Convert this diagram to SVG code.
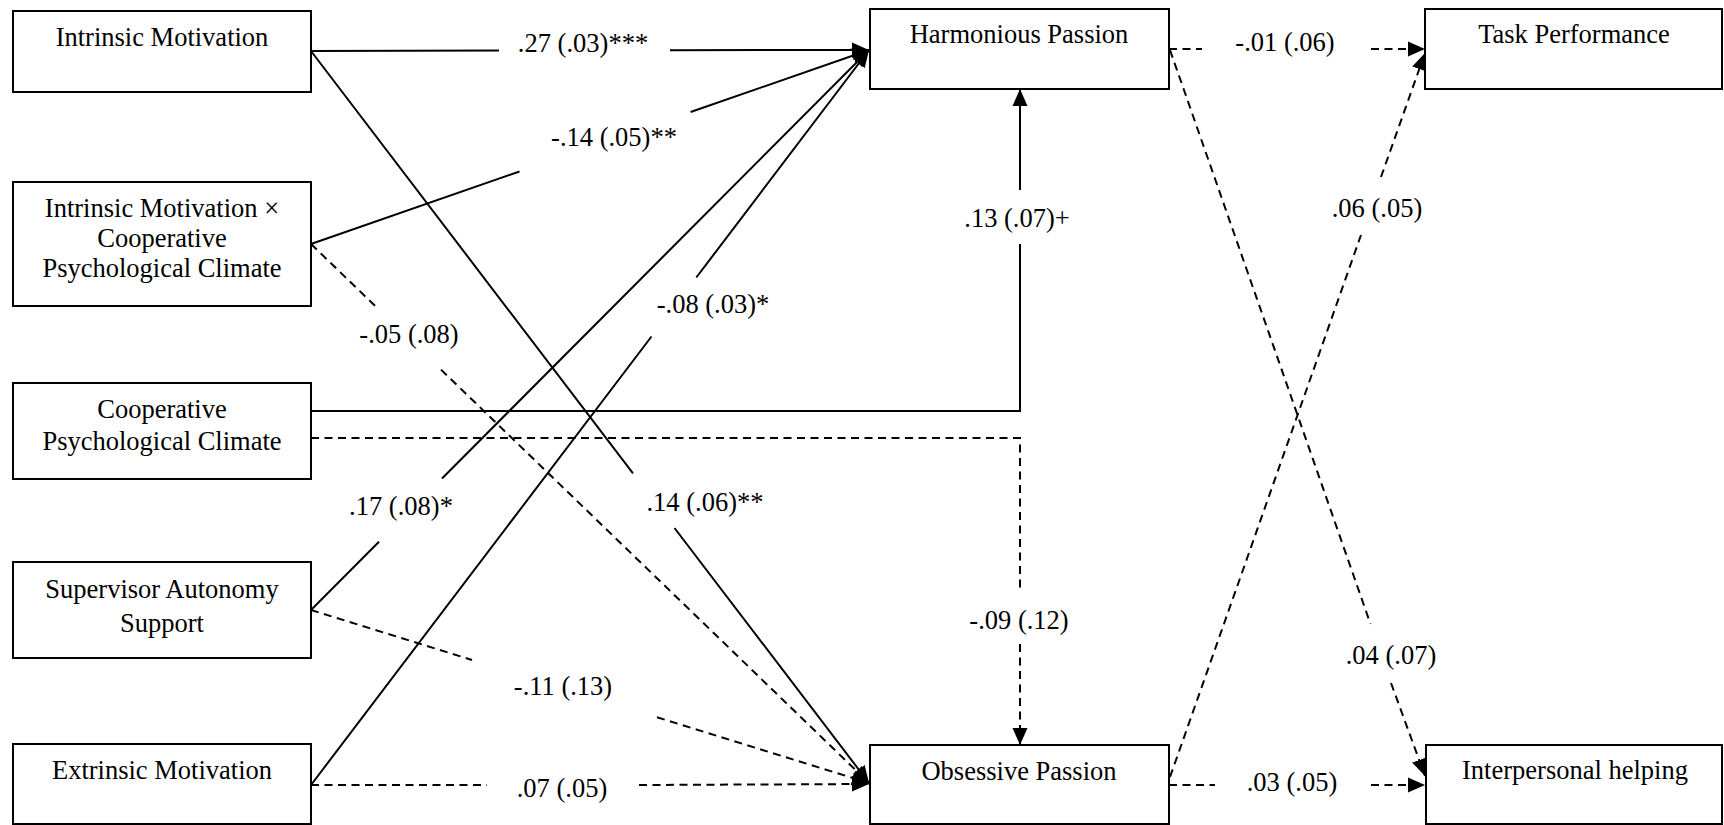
<svg xmlns="http://www.w3.org/2000/svg" width="1724" height="825" viewBox="0 0 1724 825">
<style>
.box{fill:#fff;stroke:#000;stroke-width:2}
.t{font-family:"Liberation Serif","Times New Roman",serif;font-size:26.5px;fill:#000;text-anchor:middle}
.c{fill:none;stroke:#000;stroke-width:2}
.d{stroke-dasharray:8 5.5}
</style>
<defs>
<marker id="ah" markerUnits="userSpaceOnUse" markerWidth="18" markerHeight="16" refX="17" refY="8" orient="auto" viewBox="0 0 18 16">
<path d="M0,0.5 L17,8 L0,15.5 z" fill="#000"/>
</marker>
</defs>
<rect width="1724" height="825" fill="#fff"/>
<g id="connectors">
<path id="e1" class="c" d="M311,51 L499,50.6 M670,50.2 L869,50" marker-end="url(#ah)"/>
<path id="e2" class="c" d="M311,51 L633,473.4 M674.5,528 L869,783" marker-end="url(#ah)"/>
<path id="e3" class="c" d="M311,244 L519.5,171.5 M690.6,112 L869,50" marker-end="url(#ah)"/>
<path id="e4" class="c d" d="M311,244 L376,306.8 M441,369.6 L869,783" marker-end="url(#ah)"/>
<path id="e5" class="c" d="M311,411 L1020,411 L1020,244 M1020,190 L1020,89" marker-end="url(#ah)"/>
<path id="e6" class="c d" d="M311,438 L1020,438 L1020,592 M1020,644 L1020,745" marker-end="url(#ah)"/>
<path id="e7" class="c" d="M311,610 L379,541.8 M442,478.5 L869,50" marker-end="url(#ah)"/>
<path id="e8" class="c d" d="M311,610 L472,660 M657,717.3 L869,783" marker-end="url(#ah)"/>
<path id="e9" class="c" d="M311,785 L651.5,336.5 M696.3,277.5 L869,50" marker-end="url(#ah)"/>
<path id="e10" class="c d" d="M311,785 L487,785 M639,785 L869,784" marker-end="url(#ah)"/>
<path id="e11" class="c d" d="M1169,49 L1202,49 M1371,49 L1425,49" marker-end="url(#ah)"/>
<path id="e12" class="c d" d="M1170,50 L1370.5,624 M1391,683 L1425,776" marker-end="url(#ah)"/>
<path id="e13" class="c d" d="M1170,777 L1361,235 M1381,177 L1425,53" marker-end="url(#ah)"/>
<path id="e14" class="c d" d="M1169,785 L1215,785 M1371,785 L1425,785" marker-end="url(#ah)"/>
<text class="t" x="583" y="52">.27 (.03)***</text>
<text class="t" x="614" y="146">-.14 (.05)**</text>
<text class="t" x="409" y="343">-.05 (.08)</text>
<text class="t" x="713" y="313">-.08 (.03)*</text>
<text class="t" x="1017" y="227">.13 (.07)+</text>
<text class="t" x="1285" y="51">-.01 (.06)</text>
<text class="t" x="1377" y="217">.06 (.05)</text>
<text class="t" x="401" y="515">.17 (.08)*</text>
<text class="t" x="705" y="511">.14 (.06)**</text>
<text class="t" x="563" y="695">-.11 (.13)</text>
<text class="t" x="562" y="797">.07 (.05)</text>
<text class="t" x="1019" y="629">-.09 (.12)</text>
<text class="t" x="1391" y="664">.04 (.07)</text>
<text class="t" x="1292" y="791">.03 (.05)</text>
</g>
<g id="im"><rect class="box" x="13" y="11" width="298" height="81"/><text class="t" x="162" y="46">Intrinsic Motivation</text></g>
<g id="imxcpc"><rect class="box" x="13" y="182" width="298" height="124"/><text class="t" x="162" y="217">Intrinsic Motivation ×</text><text class="t" x="162" y="247">Cooperative</text><text class="t" x="162" y="277">Psychological Climate</text></g>
<g id="cpc"><rect class="box" x="13" y="383" width="298" height="96"/><text class="t" x="162" y="418">Cooperative</text><text class="t" x="162" y="450">Psychological Climate</text></g>
<g id="sas"><rect class="box" x="13" y="562" width="298" height="96"/><text class="t" x="162" y="598">Supervisor Autonomy</text><text class="t" x="162" y="632">Support</text></g>
<g id="em"><rect class="box" x="13" y="744" width="298" height="80"/><text class="t" x="162" y="779">Extrinsic Motivation</text></g>
<g id="hp"><rect class="box" x="870" y="9" width="299" height="80"/><text class="t" x="1019" y="43">Harmonious Passion</text></g>
<g id="tp"><rect class="box" x="1425" y="9" width="297" height="80"/><text class="t" x="1574" y="43">Task Performance</text></g>
<g id="op"><rect class="box" x="870" y="745" width="299" height="79"/><text class="t" x="1019" y="780">Obsessive Passion</text></g>
<g id="ih"><rect class="box" x="1426" y="745" width="296" height="79"/><text class="t" x="1575" y="779">Interpersonal helping</text></g>
</svg>
